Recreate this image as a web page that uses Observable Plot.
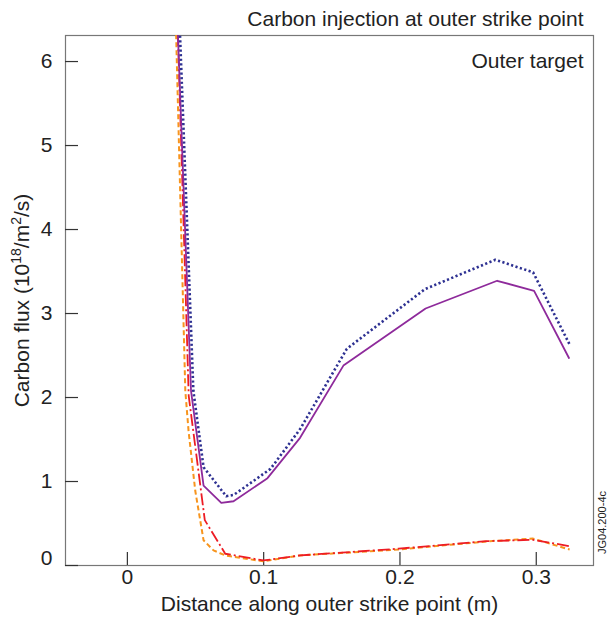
<!DOCTYPE html>
<html>
<head>
<meta charset="utf-8">
<script src="https://cdn.jsdelivr.net/npm/d3@7"></script>
<script src="https://cdn.jsdelivr.net/npm/@observablehq/plot@0.6"></script>
<style>
  html, body { margin: 0; padding: 0; background: #fff; }
  #chart svg { display: block; }
</style>
</head>
<body>
<div id="chart"></div>
<script>
// ---- Data ----
const purpleX = [0.036, 0.0467, 0.0559, 0.0689, 0.0779, 0.1028, 0.1267, 0.1585, 0.2188, 0.2713, 0.2984, 0.324];
const purpleY = [6.8, 2.08, 0.95, 0.746, 0.765, 1.04, 1.52, 2.38, 3.06, 3.39, 3.27, 2.47];

const blueX = [0.0375, 0.0484, 0.0559, 0.0725, 0.078, 0.105, 0.127, 0.161, 0.2183, 0.270, 0.2977, 0.3245];
const blueY = [6.8, 2.08, 1.17, 0.825, 0.84, 1.15, 1.63, 2.58, 3.29, 3.64, 3.49, 2.63];

const redX = [0.0362, 0.045, 0.0568, 0.0718, 0.0999, 0.1267, 0.199, 0.2635, 0.2977, 0.3245];
const redY = [6.8, 2.02, 0.54, 0.14, 0.06, 0.12, 0.2, 0.29, 0.306, 0.23];

const orangeX = [0.035, 0.0425, 0.0449, 0.0498, 0.0559, 0.0632, 0.0718, 0.0996, 0.1267, 0.199, 0.266, 0.2977, 0.3245];
const orangeY = [6.8, 2.08, 1.6, 0.89, 0.3, 0.18, 0.12, 0.05, 0.12, 0.19, 0.29, 0.32, 0.19];

const xTicks = [0, 0.1, 0.2, 0.3];
const yTicks = [0, 1, 2, 3, 4, 5, 6];

const titleText = "Carbon injection at outer strike point";
const panelText = "Outer target";
const xLabel = "Distance along outer strike point (m)";
const yLabelParts = [["Carbon flux (10", false], ["18", true], ["/m", false], ["2", true], ["/s)", false]];
const yLabel = yLabelParts.map(p => p[0]).join("");
const sideText = "JG04.200-4c";

// ---- Build tables ----
const toRows = (xs, ys) => xs.map((x, i) => ({x, y: ys[i]}));
const purple = toRows(purpleX, purpleY);
const blue = toRows(blueX, blueY);
const red = toRows(redX, redY);
const orange = toRows(orangeX, orangeY);

const FS = 21;
const ink = "#222";

const chart = Plot.plot({
  width: 613,
  height: 619,
  marginLeft: 65,
  marginRight: 20,
  marginTop: 35,
  marginBottom: 54,
  style: {fontFamily: "'Liberation Sans', Arial, Helvetica, sans-serif", fontSize: FS + "px", color: ink, background: "#fff"},
  x: {domain: [-0.0454, 0.342]},
  y: {domain: [0, 6.31]},
  marks: [
    Plot.frame({stroke: "#777", strokeWidth: 1.2}),
    Plot.axisX({ticks: xTicks, tickSize: -13, tickPadding: 17, stroke: "#333", strokeWidth: 1.2, tickFormat: d => String(d), label: null, fill: ink, fontSize: FS}),
    Plot.axisY({ticks: yTicks, tickSize: -13, tickPadding: 26, stroke: "#333", strokeWidth: 1.2, tickFormat: d => d === 0 ? "" : String(d), label: null, fill: ink, fontSize: FS}),
    Plot.text([yTicks[0]], {x: () => -0.0454, y: d => d, text: d => String(d), textAnchor: "end", lineAnchor: "middle", dx: -13, dy: -7, fill: ink, fontSize: FS}),
    Plot.line(orange, {x: "x", y: "y", stroke: "#F7941D", strokeWidth: 2, strokeDasharray: "5,3", strokeLinecap: "butt", clip: true}),
    Plot.line(red, {x: "x", y: "y", stroke: "#ED1C24", strokeWidth: 1.8, strokeDasharray: "12,3,2,3", strokeLinecap: "butt", clip: true}),
    Plot.line(purple, {x: "x", y: "y", stroke: "#8E2A9B", strokeWidth: 1.8, clip: true}),
    Plot.line(blue, {x: "x", y: "y", stroke: "#2E3192", strokeWidth: 2.6, strokeDasharray: "2.2,2.4", strokeLinecap: "butt", clip: true}),
    Plot.text([titleText], {frameAnchor: "top-right", text: d => d, textAnchor: "end", lineAnchor: "middle", dx: -10, dy: -16, fill: ink, fontSize: FS}),
    Plot.text([panelText], {frameAnchor: "top-right", text: d => d, textAnchor: "end", lineAnchor: "middle", dx: -10, dy: 26, fill: ink, fontSize: FS}),
    Plot.text([xLabel], {frameAnchor: "bottom", text: d => d, textAnchor: "middle", lineAnchor: "middle", dy: 39, fill: ink, fontSize: FS}),
    Plot.text([yLabel], {frameAnchor: "left", text: d => d, textAnchor: "middle", lineAnchor: "middle", rotate: -90, dx: -43, fill: ink, fontSize: FS, className: "ylab"}),
    Plot.text([sideText], {frameAnchor: "bottom-right", text: d => d, textAnchor: "middle", lineAnchor: "middle", rotate: -90, dx: 9, dy: -43, fontSize: 11, fill: ink})
  ]
});
document.getElementById("chart").appendChild(chart);

// Render the y label with real superscripts
const yl = chart.querySelector("g.ylab text") || Array.from(chart.querySelectorAll("text")).find(t => t.textContent === yLabel);
if (yl) {
  yl.textContent = "";
  for (const [s, sup] of yLabelParts) {
    const ts = document.createElementNS("http://www.w3.org/2000/svg", "tspan");
    ts.textContent = s;
    if (sup) {
      ts.setAttribute("font-size", Math.round(FS * 0.65));
      ts.setAttribute("baseline-shift", "super");
    }
    yl.appendChild(ts);
  }
}
</script>
</body>
</html>
